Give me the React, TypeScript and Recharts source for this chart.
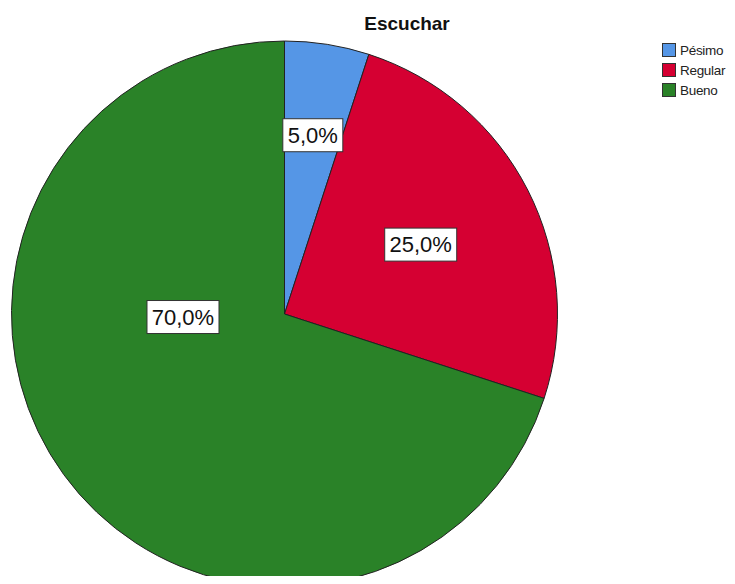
import { Cell, Legend, Pie, PieChart } from "recharts";

const categories = ["Pésimo", "Regular", "Bueno"];
const percentages = [5, 25, 70];
const colors = ["#5596E6", "#D50032", "#2A8228"];

const chartTitle = "Escuchar";

// where each value box sits, as a fraction of the radius (angle override in degrees)
const labelPlacement: { radius: number; angle?: number }[] = [
	{ radius: 0.663 },
	{ radius: 0.56 },
	{ radius: 0.372, angle: 181.7 },
];

const data = categories.map((name, i) => ({ name, value: percentages[i] }));

const RAD = Math.PI / 180;

function renderLabel(props: any) {
	const { cx, cy, midAngle, outerRadius, index, percent } = props;
	const place = labelPlacement[index];
	const angle = place.angle ?? midAngle;
	const r = outerRadius * place.radius;
	const x = cx + r * Math.cos(-angle * RAD);
	const y = cy + r * Math.sin(-angle * RAD);
	const text = (percent * 100).toFixed(1).replace(".", ",") + "%";
	const w = 12 * text.length + 12;
	const h = 33;
	return (
		<g>
			<rect x={x - w / 2} y={y - h / 2} width={w} height={h} fill="#fff" stroke="#333" strokeWidth={1} />
			<text
				x={x}
				y={y}
				textAnchor="middle"
				dominantBaseline="central"
				fontFamily="'Liberation Sans', Arial, sans-serif"
				fontSize={22}
				fill="#111"
			>
				{text}
			</text>
		</g>
	);
}

function LegendBox() {
	return (
		<div style={{ fontFamily: "'Liberation Sans', Arial, sans-serif", fontSize: 13.5, color: "#222", letterSpacing: -0.3 }}>
			{categories.map((name, i) => (
				<div key={name} style={{ display: "flex", alignItems: "center", height: 20 }}>
					<span
						style={{
							width: 12,
							height: 12,
							background: colors[i],
							border: "1px solid #333",
							marginRight: 4,
							display: "inline-block",
						}}
					/>
					<span>{name}</span>
				</div>
			))}
		</div>
	);
}

export default function App() {
	return (
		<div style={{ position: "relative", width: 735, height: 584, margin: -8, background: "#fff", overflow: "hidden" }}>
			<div
				style={{
					position: "absolute",
					left: 0,
					width: 814,
					top: 13,
					textAlign: "center",
					fontFamily: "'Liberation Sans', Arial, sans-serif",
					fontWeight: "bold",
					fontSize: 19,
					color: "#111",
				}}
			>
				{chartTitle}
			</div>
			<PieChart width={735} height={584} margin={{ top: 0, right: 0, bottom: 0, left: 0 }}>
				<Pie
					data={data}
					dataKey="value"
					nameKey="name"
					cx={284.5}
					cy={314}
					outerRadius={273}
					startAngle={90}
					endAngle={-270}
					stroke="#222"
					strokeWidth={1}
					label={renderLabel}
					labelLine={false}
					isAnimationActive={false}
				>
					{data.map((d, i) => (
						<Cell key={d.name} fill={colors[i]} />
					))}
				</Pie>
				<Legend
					content={() => <LegendBox />}
					wrapperStyle={{ position: "absolute", left: 662, top: 40, width: 80 }}
				/>
			</PieChart>
		</div>
	);
}
